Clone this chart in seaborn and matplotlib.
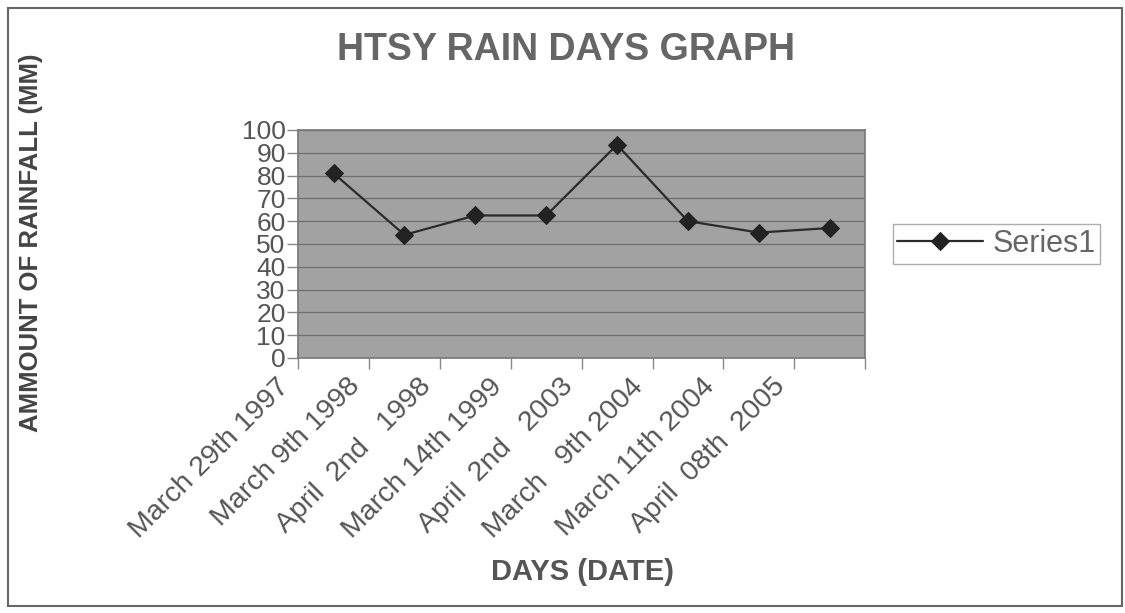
import matplotlib
matplotlib.use("Agg")
import matplotlib.pyplot as plt
import matplotlib.transforms as mtransforms
import seaborn as sns
import numpy as np
import pandas as pd
from matplotlib.patches import Rectangle

# data
dates = ["March 29th 1997", "March 9th 1998", "April  2nd   1998", "March 14th 1999",
         "April  2nd   2003", "March   9th 2004", "March 11th 2004", "April  08th  2005"]
rainfall = [81, 54, 62.5, 62.5, 93.5, 60, 55, 57]
y_ticks = [0, 10, 20, 30, 40, 50, 60, 70, 80, 90, 100]

df = pd.DataFrame({"pos": np.arange(len(dates)), "rain": rainfall})

sns.set_theme(style="white")
plt.rcParams["font.family"] = ["Liberation Sans", "DejaVu Sans"]

fig = plt.figure(figsize=(11.25, 6.13), dpi=100)
ax = fig.add_axes([0.265, 0.416, 0.504, 0.372])
ax.set_facecolor("#a2a2a2")

sns.lineplot(data=df, x="pos", y="rain", ax=ax, color="#2b2b2b", linewidth=1.6,
             marker="D", markersize=9, markeredgecolor="#222222",
             markerfacecolor="#222222", label="Series1")

ax.set_yticks(y_ticks)
ax.yaxis.grid(True, color="#6f6f6f", linewidth=0.9)
ax.set_axisbelow(True)

# labels hang at the category boundaries
ax.set_xticks(np.arange(len(dates)) - 0.5)
ax.set_xticklabels(dates, rotation=45, ha="right", va="top", rotation_mode="anchor",
                   fontsize=20.5, color="#555555")
ax.set_xticks([len(dates) - 0.5], minor=True)
ax.tick_params(axis="x", which="both", length=8, width=1, color="#888888",
               direction="out", bottom=True, pad=3)
ax.tick_params(axis="y", length=8, width=1, color="#888888", direction="out", left=True,
               labelsize=19, labelcolor="#555555", pad=1)
ax.set_xlim(-0.5, len(dates) - 0.5)
ax.set_ylim(0, 100)

# the scan has them shifted a bit to the left of the ticks
shift = mtransforms.ScaledTranslation(-0.22, 0, fig.dpi_scale_trans)
for lab in ax.get_xticklabels():
    lab.set_transform(lab.get_transform() + shift)

for s in ax.spines.values():
    s.set_color("#777777")
    s.set_linewidth(1.2)

ax.set_xlabel("")
ax.set_ylabel("")

fig.text(0.503, 0.918, "HTSY RAIN DAYS GRAPH", ha="center", va="center",
         fontsize=27, fontweight="bold", color="#666666")
fig.text(0.518, 0.067, "DAYS (DATE)", ha="center", va="center",
         fontsize=21, fontweight="bold", color="#555555")
fig.text(0.028, 0.604, "AMMOUNT OF RAINFALL (MM)", ha="center", va="center",
         rotation=90, fontsize=18.5, fontweight="bold", color="#444444")

leg = ax.legend(loc="center left", bbox_to_anchor=(1.049, 0.5), frameon=True,
                fancybox=False, fontsize=22, handlelength=2.8, borderpad=0.15,
                handletextpad=0.3, borderaxespad=0)
leg.get_frame().set_edgecolor("#999999")
leg.get_frame().set_linewidth(1)
for t in leg.get_texts():
    t.set_color("#666666")

# outer frame of the scanned chart
fig.patches.append(Rectangle((0.007, 0.012), 0.99, 0.975, transform=fig.transFigure,
                             fill=False, edgecolor="#666666", linewidth=1.5))

fig.savefig("out.png", dpi=100)
